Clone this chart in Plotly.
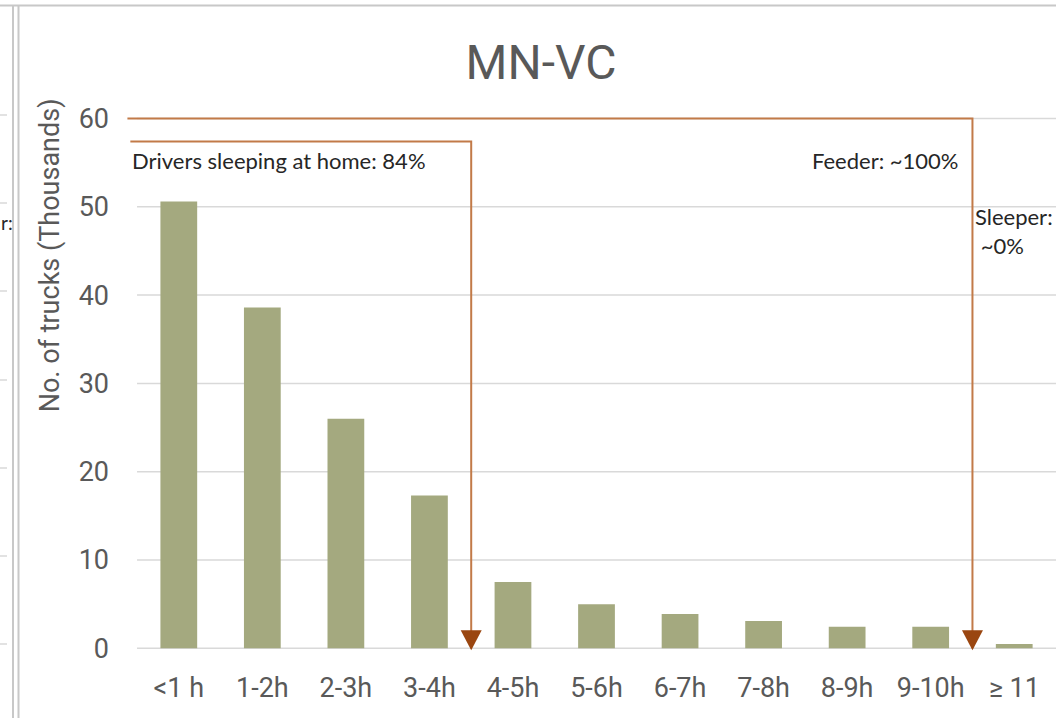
import plotly.graph_objects as go

# ---- data -------------------------------------------------------------
categories = ["<1 h", "1-2h", "2-3h", "3-4h", "4-5h", "5-6h",
              "6-7h", "7-8h", "8-9h", "9-10h", "≥ 11"]
trucks_thousands = [50.6, 38.6, 26.0, 17.3, 7.5, 5.0, 3.9, 3.1, 2.45, 2.45, 0.5]
y_ticks = [0, 10, 20, 30, 40, 50, 60]

# bracket arrows: where each drops to the axis and how high its run sits
home_split_x = 3.5
home_level = 57.4
home_label = "Drivers sleeping at home: 84%"
feeder_split_x = 9.5
feeder_level = 60
feeder_label = "Feeder: ~100%"
sleeper_label = "Sleeper:<br>\u00a0~0%"

# ---- canvas / styling ----------------------------------------------------
W, H = 1056, 718
M_L, M_R, M_T, M_B = 127, 0, 114, 67
PLOT_W, PLOT_H = W - M_L - M_R, H - M_T - M_B
X_RANGE = [-0.62, len(categories) - 0.5]
Y_RANGE = [-0.3, 60.5]

BAR = "#A4A97F"
GRID = "#D9D9D9"
LINE = "#C27A48"
HEAD = "#9A4610"
GREY_TXT = "#595959"
DARK_TXT = "#262626"
FRAME = "#C8C8C8"
NOTE_FONT = dict(family="Lato", size=22, color=DARK_TXT)


def px_x(px):
    return (px - M_L) / PLOT_W


def px_y(py):
    return (H - M_B - py) / PLOT_H


fig = go.Figure()
fig.add_trace(go.Bar(
    x=list(range(len(categories))),
    y=trucks_thousands,
    width=0.44,
    marker=dict(color=BAR, line=dict(width=0)),
    hoverinfo="skip",
))

shapes = []
# horizontal gridlines across the category band
for t in y_ticks:
    shapes.append(dict(type="line", xref="x", yref="y", layer="below",
                       x0=-0.5, x1=len(categories) - 0.5, y0=t, y1=t,
                       line=dict(color=GRID, width=1.5)))

# bracket arrows
for start_x, level, split_x in [(-0.58, home_level, home_split_x),
                                (-0.615, feeder_level, feeder_split_x)]:
    shapes.append(dict(type="path", xref="x", yref="y",
                       path=f"M {start_x},{level} H {split_x} V 0",
                       line=dict(color=LINE, width=2)))
    shapes.append(dict(type="path", xref="x", yref="y",
                       xsizemode="pixel", ysizemode="pixel",
                       xanchor=split_x, yanchor=0,
                       path="M -10.5,18 L 10.5,18 L 0,-2 Z",
                       fillcolor=HEAD, line=dict(width=0)))

# chart frame and the edge of the neighbouring chart
for fx in (13, 18.5):
    shapes.append(dict(type="line", xref="paper", yref="paper",
                       x0=px_x(fx), x1=px_x(fx), y0=px_y(5), y1=px_y(H),
                       line=dict(color=FRAME, width=2)))
shapes.append(dict(type="line", xref="paper", yref="paper",
                   x0=px_x(0), x1=px_x(W), y0=px_y(5.5), y1=px_y(5.5),
                   line=dict(color=FRAME, width=2)))
for sy in (115, 203, 291, 380, 468, 556, 644):
    shapes.append(dict(type="line", xref="paper", yref="paper",
                       x0=px_x(0), x1=px_x(7), y0=px_y(sy), y1=px_y(sy),
                       line=dict(color=GRID, width=1.5)))

annotations = [
    dict(text=home_label, x=-0.5, y=55.2, xref="x", yref="y",
         xanchor="left", yanchor="middle", xshift=-7, showarrow=False,
         font=NOTE_FONT),
    dict(text=feeder_label, x=feeder_split_x, y=55.2, xref="x", yref="y",
         xanchor="right", yanchor="middle", xshift=-12, showarrow=False,
         font=NOTE_FONT),
    dict(text=sleeper_label, x=feeder_split_x, y=47.25, xref="x", yref="y",
         xanchor="left", yanchor="middle", xshift=1, showarrow=False,
         align="left", font=NOTE_FONT),
    dict(text="No. of trucks (Thousands)", textangle=-90,
         x=px_x(50), y=44.5, xref="paper", yref="y",
         xanchor="center", yanchor="middle", showarrow=False,
         font=dict(family="Roboto", size=27, color=GREY_TXT)),
    dict(text="r:", x=px_x(-1), y=px_y(222), xref="paper", yref="paper",
         xanchor="left", yanchor="middle", showarrow=False,
         font=dict(family="Lato", size=19, color=DARK_TXT)),
]

fig.update_layout(
    width=W, height=H,
    margin=dict(l=M_L, r=M_R, t=M_T, b=M_B, pad=0),
    paper_bgcolor="white", plot_bgcolor="white",
    showlegend=False,
    title=dict(text="MN-VC", x=541 / W, xref="container", xanchor="center",
               y=1 - 62 / H, yref="container", yanchor="middle",
               font=dict(family="Roboto", size=48, color=GREY_TXT)),
    xaxis=dict(range=X_RANGE, tickmode="array",
               tickvals=list(range(len(categories))), ticktext=categories,
               showgrid=False, zeroline=False, showline=False, ticks="",
               ticklabelstandoff=18,
               tickfont=dict(family="Roboto", size=27, color=GREY_TXT)),
    yaxis=dict(range=Y_RANGE, tickmode="array", tickvals=y_ticks,
               showgrid=False, zeroline=False, showline=False, ticks="",
               ticklabelstandoff=17,
               tickfont=dict(family="Roboto", size=27, color=GREY_TXT)),
    shapes=shapes,
    annotations=annotations,
)

fig.write_html("out.html")
